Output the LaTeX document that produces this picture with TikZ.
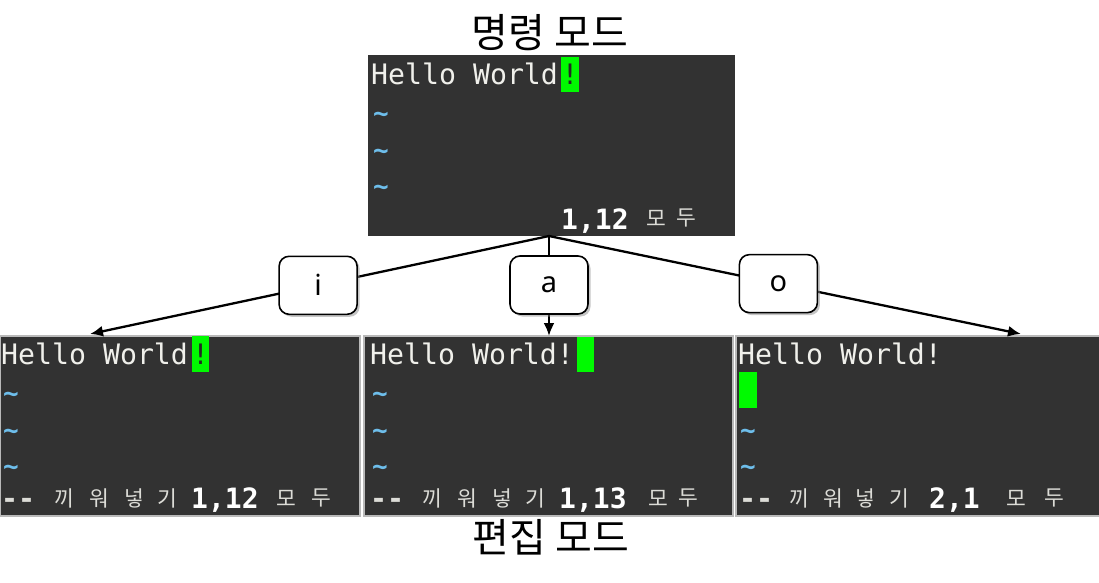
\documentclass[tikz,border=0pt]{standalone}
\usepackage{fontspec}
\setmainfont{Noto Sans}
\newfontfamily\kr{Noto Sans CJK KR}
\newfontfamily\mono{DejaVu Sans Mono}
\usetikzlibrary{shadows,arrows.meta}
\definecolor{term}{RGB}{50,50,50}
\definecolor{cur}{RGB}{0,250,0}
\definecolor{tilc}{RGB}{110,190,235}
\definecolor{stat}{RGB}{220,220,215}
\definecolor{hel}{RGB}{240,240,235}
\begin{document}
\begin{tikzpicture}[x=1pt,y=-1pt,
  toppanel/.style={fill=term, draw=none, inner sep=0, minimum width=367pt, minimum height=181pt},
  botpanel/.style={fill=term, draw=gray!55, line width=1.2pt, inner sep=0, minimum height=180pt},
  cursorbox/.style={fill=cur, draw=none, inner sep=0},
  hello/.style={anchor=base west, inner sep=0, text=hel, font=\mono\fontsize{28.2}{30}\selectfont},
  bang/.style={anchor=base, inner sep=0, text=black!85, font=\mono\fontsize{28.2}{30}\selectfont},
  tild/.style={anchor=center, inner sep=0, text=tilc, font=\mono\bfseries\fontsize{26}{28}\selectfont},
  dashes/.style={anchor=base west, inner sep=0, text=stat, font=\mono\bfseries\fontsize{28.2}{30}\selectfont},
  kch/.style={anchor=center, inner sep=0, text=stat, font=\kr\fontsize{21.5}{22}\selectfont},
  numtxt/.style={anchor=base west, inner sep=0, text=white, font=\mono\bfseries\fontsize{28}{30}\selectfont},
  title/.style={anchor=center, inner sep=0, text=black, font=\kr\fontsize{40}{44}\selectfont},
  keybox/.style={draw=black, line width=1.6pt, fill=white, rounded corners=10pt,
     minimum width=78pt, minimum height=58pt, inner sep=0,
     font=\fontsize{29}{30}\selectfont,
     drop shadow={shadow xshift=2.5pt, shadow yshift=-2.5pt, fill=black!45}},
  arr/.style={line width=2.3pt, draw=black, -{Latex[length=13pt,width=11pt]}}
]
\useasboundingbox (0,0) rectangle (1099,582);

% titles
\node[title] (ttop) at (550,33) {명령 모드};
\node[title] (tbot) at (551,537) {편집 모드};

% top panel
\node[toppanel] (top) at (551.5,145.5) {};
\node[cursorbox, minimum width=18pt, minimum height=35pt] (c0) at (570,74.5) {};
\node[hello] (h0) at (371,84) {Hello World};
\node[bang] (b0) at (570,84) {!};
\node[tild] (t01) at (381,117) {\textasciitilde};
\node[tild] (t02) at (381,154) {\textasciitilde};
\node[tild] (t03) at (381,190) {\textasciitilde};
\node[numtxt] (n0) at (561,229) {1,12};
\node[kch] (m0) at (656,218) {모};
\node[kch] (d0) at (686,218) {두};

% bottom left panel
\node[botpanel, minimum width=360pt] (pl) at (180,426) {};
\node[cursorbox, minimum width=17pt, minimum height=36pt] (c1) at (200.5,354) {};
\node[hello] (h1) at (1,364) {Hello World};
\node[bang] (b1) at (200.5,364) {!};
\node[tild] (t11) at (11,397) {\textasciitilde};
\node[tild] (t12) at (11,434) {\textasciitilde};
\node[tild] (t13) at (11,470) {\textasciitilde};
\node[dashes] (s1) at (1,508) {--};
\node[kch] (k11) at (64,498) {끼};
\node[kch] (k12) at (99,498) {워};
\node[kch] (k13) at (134,498) {넣};
\node[kch] (k14) at (167,498) {기};
\node[numtxt] (n1) at (191,508) {1,12};
\node[kch] (m1) at (286,498) {모};
\node[kch] (d1) at (321,498) {두};

% bottom middle panel
\node[botpanel, minimum width=369pt] (pm) at (548.5,426) {};
\node[cursorbox, minimum width=17pt, minimum height=35pt] (c2) at (585.5,354.5) {};
\node[hello] (h2) at (370,364) {Hello World!};
\node[tild] (t21) at (380,397) {\textasciitilde};
\node[tild] (t22) at (380,434) {\textasciitilde};
\node[tild] (t23) at (380,470) {\textasciitilde};
\node[dashes] (s2) at (370,508) {--};
\node[kch] (k21) at (432,498) {끼};
\node[kch] (k22) at (467,498) {워};
\node[kch] (k23) at (502,498) {넣};
\node[kch] (k24) at (535,498) {기};
\node[numtxt] (n2) at (559,508) {1,13};
\node[kch] (m2) at (658,498) {모};
\node[kch] (d2) at (688,498) {두};

% bottom right panel
\node[botpanel, minimum width=364pt] (pr) at (918,426) {};
\node[cursorbox, minimum width=18pt, minimum height=36pt] (c3) at (748,390) {};
\node[hello] (h3) at (738,364) {Hello World!};
\node[tild] (t31) at (748,434) {\textasciitilde};
\node[tild] (t32) at (748,470) {\textasciitilde};
\node[dashes] (s3) at (739,508) {--};
\node[kch] (k31) at (799,498) {끼};
\node[kch] (k32) at (833,498) {워};
\node[kch] (k33) at (865,498) {넣};
\node[kch] (k34) at (899,498) {기};
\node[numtxt] (n3) at (929,508) {2,1};
\node[kch] (m3) at (1016,498) {모};
\node[kch] (d3) at (1054,498) {두};

% connectors
\coordinate (src) at (549,236);
\coordinate (tgL) at (90,334);
\coordinate (tgM) at (549,336);
\coordinate (tgR) at (1021,334);
\draw[arr] (src) -- node[keybox, pos=0.503] (ki) {i} (tgL);
\draw[arr] (src) -- node[keybox, pos=0.49] (ka) {a} (tgM);
\draw[arr] (src) -- node[keybox, pos=0.486] (ko) {o} (tgR);
\end{tikzpicture}
\end{document}
